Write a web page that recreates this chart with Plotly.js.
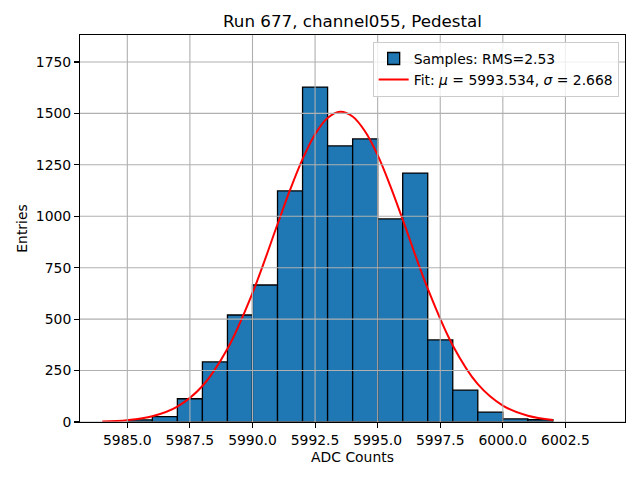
<!DOCTYPE html>
<html>
<head>
<meta charset="utf-8">
<script src="https://cdn.plot.ly/plotly-3.0.1.min.js"></script>
<style>html,body{margin:0;padding:0;background:#fff;}#chart{width:640px;height:480px;}</style>
</head>
<body>
<div id="chart"></div>
<script>
// Histogram bins (left edges, width 1 ADC count) and counts
const binLeft = [5985, 5986, 5987, 5988, 5989, 5990, 5991, 5992, 5993, 5994, 5995, 5996, 5997, 5998, 5999, 6000, 6001];
const counts  = [10, 26, 113, 292, 520, 666, 1123, 1628, 1342, 1376, 987, 1210, 399, 155, 48, 15, 11];

// Fit curve points
const fitX = [5984, 5985, 5986, 5987, 5988, 5989, 5990, 5991, 5991.5, 5992, 5992.5, 5993, 5993.5, 5994, 5994.5, 5995, 5995.5, 5996, 5997, 5998, 5999, 6000, 6001, 6002];
const fitY = [2.5, 9, 28, 75, 175, 356, 627, 961, 1128, 1278, 1399, 1478, 1508, 1485, 1412, 1297, 1149, 984, 648, 372, 184, 80, 30, 10];

const xTicks = [5985, 5987.5, 5990, 5992.5, 5995, 5997.5, 6000, 6002.5];
const yTicks = [0, 250, 500, 750, 1000, 1250, 1500, 1750];
const xRange = [5983.11, 6004.88];
const yRange = [0, 1881];

const histLabel = 'Samples: RMS=2.53';
const fitLabel = 'Fit: <i>μ</i> = 5993.534, <i>σ</i> = 2.668';

const FONT = 'DejaVu Sans, sans-serif';
const gridColor = '#b0b0b0';

const shapes = [];
xTicks.forEach(t => shapes.push({type:'line', xref:'x', yref:'paper', x0:t, x1:t, y0:0, y1:1, layer:'above', line:{color:gridColor, width:1.1}}));
yTicks.forEach(t => shapes.push({type:'line', xref:'paper', yref:'y', x0:0, x1:1, y0:t, y1:t, layer:'above', line:{color:gridColor, width:1.1}}));

const traces = [
  {
    type: 'bar', x: binLeft, y: counts, width: 1, offset: 0,
    name: histLabel,
    marker: {color: '#1f77b4', line: {color: '#000000', width: 1.3}},
    hoverinfo: 'skip'
  },
  {
    type: 'scatter', mode: 'lines', x: fitX, y: fitY,
    name: fitLabel,
    line: {color: '#ff0000', width: 2, shape: 'spline', smoothing: 1},
    hoverinfo: 'skip'
  }
];

const layout = {
  width: 640, height: 480,
  margin: {l: 80, r: 14.7, t: 35.3, b: 57.7, pad: 0},
  paper_bgcolor: '#ffffff', plot_bgcolor: '#ffffff',
  font: {family: FONT, size: 13.9, color: '#000000'},
  title: {text: 'Run 677, channel055, Pedestal', font: {family: FONT, size: 16.7, color: '#000'},
          xref: 'paper', x: 0.5, xanchor: 'center', yref: 'container', y: 0.956, yanchor: 'middle'},
  bargap: 0,
  showlegend: true,
  legend: {x: 0.9884, xanchor: 'right', y: 0.982, yanchor: 'top',
           bgcolor: 'rgba(255,255,255,0.8)', bordercolor: '#cccccc', borderwidth: 1,
           font: {family: FONT, size: 13.9, color: '#000'}, traceorder: 'normal'},
  xaxis: {
    range: xRange, autorange: false, tickvals: xTicks, tickformat: '.1f',
    showgrid: false, zeroline: false, showline: true, mirror: true, linecolor: '#000', linewidth: 1.1,
    ticks: 'outside', ticklen: 4.9, tickwidth: 1.1, tickcolor: '#000',
    tickfont: {family: FONT, size: 13.9, color: '#000'},
    title: {text: 'ADC Counts', font: {family: FONT, size: 13.9, color: '#000'}, standoff: 5},
    automargin: false
  },
  yaxis: {
    range: yRange, autorange: false, tickvals: yTicks,
    showgrid: false, zeroline: false, showline: true, mirror: true, linecolor: '#000', linewidth: 1.1,
    ticks: 'outside', ticklen: 4.9, tickwidth: 1.1, tickcolor: '#000',
    tickfont: {family: FONT, size: 13.9, color: '#000'},
    title: {text: 'Entries', font: {family: FONT, size: 13.9, color: '#000'}, standoff: 5},
    automargin: false
  },
  shapes: shapes
};

Plotly.newPlot('chart', traces, layout, {staticPlot: true, displayModeBar: false});
</script>
</body>
</html>
